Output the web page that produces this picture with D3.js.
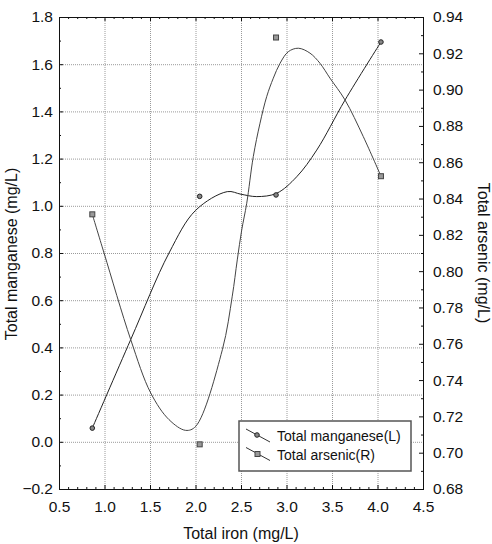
<!DOCTYPE html>
<html>
<head>
<meta charset="utf-8">
<script src="https://cdn.jsdelivr.net/npm/d3@7"></script>
<style>
  body { margin: 0; background: #fff; }
  text { font-family: "Liberation Sans", Arial, sans-serif; fill: #111; }
</style>
</head>
<body>
<div id="chart"></div>
<script>
var svgWidth = 492;
var svgHeight = 544;

var margin = { top: 17, right: 69, bottom: 55, left: 59 };
var chartWidth = svgWidth - margin.left - margin.right;
var chartHeight = svgHeight - margin.top - margin.bottom;

// measured points
var ironMn = [0.866, 2.046, 2.885, 4.038];
var manganese = [0.058, 1.040, 1.046, 1.694];
var ironAs = [0.866, 2.046, 2.885, 4.038];
var arsenic = [0.8313, 0.7046, 0.9287, 0.8523];

// smoothed curves
var mnFitX = [0.866, 1.288, 1.709, 2.002, 2.349, 2.500, 2.673, 2.892, 3.112, 3.332, 3.643, 4.038];
var mnFitY = [0.058, 0.433, 0.800, 0.981, 1.060, 1.049, 1.039, 1.053, 1.123, 1.236, 1.448, 1.694];
var asFitX = [0.866, 0.995, 1.288, 1.508, 1.709, 1.892, 2.002, 2.295, 2.404, 2.459, 2.508, 2.563, 2.635, 2.709, 2.782, 2.855, 2.929, 3.020, 3.130, 3.258, 3.368, 3.478, 3.643, 3.844, 4.038];
var asFitY = [0.8313, 0.8100, 0.7623, 0.7329, 0.7182, 0.7123, 0.7145, 0.7567, 0.7862, 0.8062, 0.8227, 0.8374, 0.8631, 0.8815, 0.8961, 0.9063, 0.9145, 0.9209, 0.9228, 0.9201, 0.9145, 0.9063, 0.8943, 0.8741, 0.8523];

// ticks
var xMajor = [0.5, 1.0, 1.5, 2.0, 2.5, 3.0, 3.5, 4.0, 4.5];
var yLeftMajor = [-0.2, 0.0, 0.2, 0.4, 0.6, 0.8, 1.0, 1.2, 1.4, 1.6, 1.8];
var yRightMajor = [0.68, 0.70, 0.72, 0.74, 0.76, 0.78, 0.80, 0.82, 0.84, 0.86, 0.88, 0.90, 0.92, 0.94];

var legendLabels = ["Total manganese(L)", "Total arsenic(R)"];

var svg = d3.select("#chart")
  .append("svg")
  .attr("width", svgWidth)
  .attr("height", svgHeight);

var chartGroup = svg.append("g")
  .attr("transform", `translate(${margin.left}, ${margin.top})`);

var xScale = d3.scaleLinear().domain([0.5, 4.5]).range([0, chartWidth]);
var yLeft = d3.scaleLinear().domain([-0.2, 1.8]).range([chartHeight, 0]);
var yRight = d3.scaleLinear().domain([0.68, 0.94]).range([chartHeight, 0]);

var xMinor = d3.range(6, 45).map(d => d / 10).filter(d => Math.round(d * 10) % 5 !== 0);
var yLeftMinor = d3.range(-1, 18, 2).map(d => d / 10);
var yRightMinor = d3.range(69, 94, 2).map(d => d / 100);

// grid
var grid = chartGroup.append("g")
  .attr("stroke", "#9a9a9a")
  .attr("stroke-width", 1)
  .attr("stroke-dasharray", "1,1");

grid.selectAll(".gx")
  .data(xMajor.slice(1, -1))
  .enter()
  .append("line")
  .attr("x1", d => xScale(d) + 0.5)
  .attr("x2", d => xScale(d) + 0.5)
  .attr("y1", 0)
  .attr("y2", chartHeight);

grid.selectAll(".gy")
  .data(yLeftMajor.slice(1, -1))
  .enter()
  .append("line")
  .attr("x1", 0)
  .attr("x2", chartWidth)
  .attr("y1", d => yLeft(d) + 0.5)
  .attr("y2", d => yLeft(d) + 0.5);

// axes
function styleAxis(g) {
  g.select(".domain").remove();
  g.selectAll("line").attr("stroke", "#111");
  g.selectAll("text").style("font-size", "15.5px").attr("fill", "#111");
}

chartGroup.append("g")
  .attr("transform", `translate(0, ${chartHeight})`)
  .call(d3.axisBottom(xScale).tickValues(xMajor).tickSize(-4).tickPadding(12).tickFormat(d3.format(".1f")))
  .call(styleAxis);

chartGroup.append("g")
  .attr("transform", `translate(0, ${chartHeight})`)
  .call(d3.axisBottom(xScale).tickValues(xMinor).tickSize(-2).tickFormat(""))
  .call(styleAxis);

chartGroup.append("g")
  .call(d3.axisTop(xScale).tickValues(xMajor).tickSize(-4).tickFormat(""))
  .call(styleAxis);

chartGroup.append("g")
  .call(d3.axisTop(xScale).tickValues(xMinor).tickSize(-2).tickFormat(""))
  .call(styleAxis);

chartGroup.append("g")
  .call(d3.axisLeft(yLeft).tickValues(yLeftMajor).tickSize(-4).tickPadding(6).tickFormat(d3.format(".1f")))
  .call(styleAxis);

chartGroup.append("g")
  .call(d3.axisLeft(yLeft).tickValues(yLeftMinor).tickSize(-2).tickFormat(""))
  .call(styleAxis);

chartGroup.append("g")
  .attr("transform", `translate(${chartWidth}, 0)`)
  .call(d3.axisRight(yRight).tickValues(yRightMajor).tickSize(-4).tickPadding(10).tickFormat(d3.format(".2f")))
  .call(styleAxis);

chartGroup.append("g")
  .attr("transform", `translate(${chartWidth}, 0)`)
  .call(d3.axisRight(yRight).tickValues(yRightMinor).tickSize(-2).tickFormat(""))
  .call(styleAxis);

// frame
chartGroup.append("rect")
  .attr("x", 0.5)
  .attr("y", 0.5)
  .attr("width", chartWidth)
  .attr("height", chartHeight)
  .attr("fill", "none")
  .attr("stroke", "#111")
  .attr("stroke-width", 1);

// curves
var mnLine = d3.line()
  .x(d => xScale(d[0]))
  .y(d => yLeft(d[1]))
  .curve(d3.curveCatmullRom.alpha(0.5));

var asLine = d3.line()
  .x(d => xScale(d[0]))
  .y(d => yRight(d[1]))
  .curve(d3.curveCatmullRom.alpha(0.5));

chartGroup.append("path")
  .datum(d3.zip(mnFitX, mnFitY))
  .attr("d", mnLine)
  .attr("fill", "none")
  .attr("stroke", "#222")
  .attr("stroke-width", 1);

chartGroup.append("path")
  .datum(d3.zip(asFitX, asFitY))
  .attr("d", asLine)
  .attr("fill", "none")
  .attr("stroke", "#444")
  .attr("stroke-width", 1);

// markers
chartGroup.append("g")
  .selectAll("circle")
  .data(d3.zip(ironMn, manganese))
  .enter()
  .append("circle")
  .attr("cx", d => xScale(d[0]))
  .attr("cy", d => yLeft(d[1]))
  .attr("r", 2.3)
  .attr("fill", "#888")
  .attr("stroke", "#222")
  .attr("stroke-width", 1);

chartGroup.append("g")
  .selectAll("rect")
  .data(d3.zip(ironAs, arsenic))
  .enter()
  .append("rect")
  .attr("x", d => xScale(d[0]) - 2.5)
  .attr("y", d => yRight(d[1]) - 2.5)
  .attr("width", 5)
  .attr("height", 5)
  .attr("fill", "#999")
  .attr("stroke", "#444")
  .attr("stroke-width", 1);

// axis titles
svg.append("text")
  .attr("x", 241)
  .attr("y", 539)
  .attr("text-anchor", "middle")
  .style("font-size", "16px")
  .text("Total iron (mg/L)");

svg.append("text")
  .attr("transform", "translate(17, 254) rotate(-90)")
  .attr("text-anchor", "middle")
  .style("font-size", "16px")
  .text("Total manganese (mg/L)");

svg.append("text")
  .attr("transform", "translate(478, 253) rotate(90)")
  .attr("text-anchor", "middle")
  .style("font-size", "16px")
  .text("Total arsenic (mg/L)");

// legend
var legend = svg.append("g")
  .attr("transform", "translate(239, 421)");

legend.append("rect")
  .attr("width", 172)
  .attr("height", 50)
  .attr("fill", "#fff")
  .attr("stroke", "#555")
  .attr("stroke-width", 1.5);

legendLabels.forEach(function(label, i) {
  var row = legend.append("g")
    .attr("transform", `translate(0, ${8 + i * 18.5})`);
  row.append("line")
    .attr("x1", 7).attr("y1", 0)
    .attr("x2", 31).attr("y2", 13)
    .attr("stroke", "#333")
    .attr("stroke-width", 1);
  if (i === 0) {
    row.append("circle")
      .attr("cx", 18).attr("cy", 6)
      .attr("r", 2.3)
      .attr("fill", "#888")
      .attr("stroke", "#222");
  } else {
    row.append("rect")
      .attr("x", 16).attr("y", 4)
      .attr("width", 5).attr("height", 5)
      .attr("fill", "#999")
      .attr("stroke", "#444");
  }
  row.append("text")
    .attr("x", 38)
    .attr("y", 12)
    .style("font-size", "14px")
    .text(label);
});
</script>
</body>
</html>
